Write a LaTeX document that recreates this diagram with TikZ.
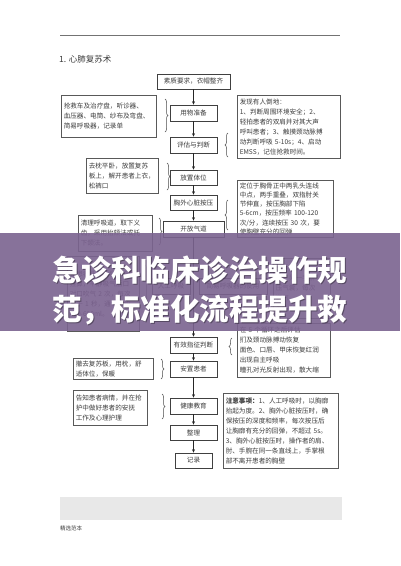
\documentclass[tikz,border=0pt]{standalone}
\usepackage{fontspec}
\newfontfamily\cjk{Noto Sans CJK SC}
\usetikzlibrary{decorations.pathreplacing,arrows.meta}
\definecolor{bannerc}{RGB}{123,99,144}
\definecolor{inkc}{RGB}{60,60,60}
\tikzset{
  cbox/.style={draw=black!75, line width=0.6pt, fill=white, inner sep=0pt, font=\cjk\fontsize{6.6}{8}\selectfont, text=inkc},
  tbox/.style={draw=black!65, line width=0.5pt, anchor=north west, inner sep=2.5pt, align=left, font=\cjk\fontsize{6.6}{10}\selectfont, text=inkc},
  arr/.style={-{Stealth[length=3.5pt,width=3pt]}, black!85, line width=0.6pt},
  brc/.style={decorate, decoration={brace, amplitude=3pt}, black!70, line width=0.5pt},
  bantext/.style={anchor=west, inner sep=0pt, font=\cjk\bfseries\fontsize{29.5}{30}\selectfont}
}
\begin{document}
\begin{tikzpicture}[x=1pt,y=-1pt]
\useasboundingbox (0,0) rectangle (400,566);
\fill[white] (0,0) rectangle (400,566);
% header
\draw[black!55, line width=0.5pt] (60,35) -- (340,35);
\node[anchor=west, inner sep=0pt, font=\cjk\fontsize{8.5}{10}\selectfont, text=inkc] (title) at (59,59) {1. 心肺复苏术};
% centre column
\node[cbox, minimum width=73pt, minimum height=15pt] (c0) at (193.5,81.5) {素质要求，衣帽整齐};
\node[cbox, minimum width=47pt, minimum height=16pt] (c1) at (193.5,113) {用物准备};
\node[cbox, minimum width=47pt, minimum height=16pt] (c2) at (193.5,145) {评估与判断};
\node[cbox, minimum width=47pt, minimum height=15pt] (c3) at (193.5,177.5) {放置体位};
\node[cbox, minimum width=47pt, minimum height=15pt] (c4) at (193.5,202.5) {胸外心脏按压};
\node[cbox, minimum width=61pt, minimum height=16pt] (c5) at (193.5,229) {开放气道};
\node[cbox, minimum width=38pt, minimum height=16pt] (c6) at (171,286) {人工呼吸};
\node[cbox, minimum width=68pt, minimum height=16pt] (c7) at (233,286) {简易呼吸器的使用};
\node[cbox, minimum width=47pt, minimum height=16pt] (c8) at (193.5,345) {有效指征判断};
\node[cbox, minimum width=47pt, minimum height=16pt] (c9) at (193.5,369) {安置患者};
\node[cbox, minimum width=47pt, minimum height=16pt] (c10) at (193.5,406) {健康教育};
\node[cbox, minimum width=47pt, minimum height=15pt] (c11) at (193.5,432.5) {整理};
\node[cbox, minimum width=37pt, minimum height=15pt] (c12) at (193.5,460.5) {记录};
\draw[arr] (c0) -- (c1);
\draw[arr] (c1) -- (c2);
\draw[arr] (c2) -- (c3);
\draw[arr] (c3) -- (c4);
\draw[arr] (c4) -- (c5);
\draw[arr] (c5) -- (c8);
\draw[arr] (c8) -- (c9);
\draw[arr] (c9) -- (c10);
\draw[arr] (c10) -- (c11);
\draw[arr] (c11) -- (c12);
% left boxes
\node[tbox, text width=90pt, minimum height=42pt] (l1) at (61,95) {抢救车及治疗盘，听诊器、\\血压器、电筒、纱布及弯盘、\\简易呼吸器，记录单};
\node[tbox, text width=67pt, minimum height=35pt] (l2) at (86,158) {去枕平卧，放置复苏\\板上，解开患者上衣，\\松裤口};
\node[tbox, text width=69pt, minimum height=36pt] (l3) at (78,215) {清理呼吸道，取下义\\齿，采用抬颏法或托\\下颌法。};
\node[tbox, text width=67pt, minimum height=75pt] (l4) at (67,256) {使患者头部后仰，右手\\捏鼻，平静吸气后口\\对口吹气 2 次，每次\\大于 1 秒，通气量约\\400-600ml。};
\node[tbox, text width=75pt, minimum height=20pt] (l5) at (73,358) {撤去复苏板，用枕，舒\\适体位，保暖};
\node[tbox, text width=69pt, minimum height=35pt] (l6) at (73,390) {告知患者病情，并在抢\\护中做好患者的安抚\\工作及心理护理};
% right boxes
\node[tbox, text width=98pt, minimum height=63pt] (r1) at (237,95) {发现有人倒地：\\1、判断周围环境安全；2、\\轻拍患者的双肩并对其大声\\呼叫患者；3、触摸颈动脉搏\\动判断呼吸 5-10s；4、启动\\EMSS，记住抢救时间。};
\node[tbox, text width=91pt, minimum height=55pt, font=\cjk\fontsize{6.6}{9.2}\selectfont] (r2) at (237,180) {定位于胸骨正中两乳头连线\\中点，两手重叠，双指肘关\\节伸直，按压胸部下陷\\5-6cm，按压频率 100-120\\次/分，连续按压 30 次，要\\使胸壁充分的回弹};
\node[tbox, text width=52pt, minimum height=60pt] (r3) at (273,258) {一手固定面\\罩，另一手挤\\压气囊，每次\\送气\\400-600ml。};
\node[tbox, text width=88pt, minimum height=54pt] (r4) at (237,323) {在 5 个循环之后评估\\扪及颈动脉搏动恢复\\面色、口唇、甲床恢复红润\\出现自主呼吸\\瞳孔对光反射出现，散大缩};
\node[tbox, text width=110pt, minimum height=75pt] (r5) at (223,393) {\textbf{注意事项：}1、人工呼吸时，以胸廓\\抬起为度。2、胸外心脏按压时，确\\保按压的深度和频率，每次按压后\\让胸廓有充分的回弹，不超过 5s。\\3、胸外心脏按压时，操作者的肩、\\肘、手腕在同一条直线上，手掌根\\部不离开患者的胸壁};
% braces
\draw[brc] (165,99) -- (165,132);
\draw[brc] (228,157) -- (228,133);
\draw[brc] (167,163) -- (167,190);
\draw[brc] (228,230) -- (228,200);
\draw[brc] (159,218) -- (159,245);
\draw[brc] (145,265) -- (145,300);
\draw[brc] (232,355) -- (232,338);
\draw[brc] (161,359) -- (161,379);
\draw[brc] (162,394) -- (162,419);
% footer
\fill[black!9] (60,497) rectangle (342,520);
\node[anchor=west, inner sep=0pt, font=\cjk\fontsize{5.5}{6}\selectfont, text=inkc] (foot) at (60,528) {精选范本};
% banner overlay
\fill[bannerc, opacity=0.9] (0,233) rectangle (400,331);
\node[bantext, text=black, opacity=0.35] (s1) at (53,271) {急诊科临床诊治操作规};
\node[bantext, text=black, opacity=0.35] (s2) at (53,311) {范，标准化流程提升救};
\node[bantext, text=white] (t1) at (52,270) {急诊科临床诊治操作规};
\node[bantext, text=white] (t2) at (52,310) {范，标准化流程提升救};
\end{tikzpicture}
\end{document}
